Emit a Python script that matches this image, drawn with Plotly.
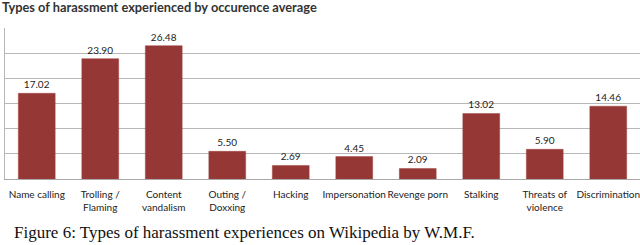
import plotly.graph_objects as go

categories = ["Name calling", "Trolling /<br>Flaming", "Content<br>vandalism", "Outing /<br>Doxxing",
              "Hacking", "Impersonation", "Revenge porn", "Stalking", "Threats of<br>violence", "Discrimination"]
values = [17.02, 23.90, 26.48, 5.50, 2.69, 4.45, 2.09, 13.02, 5.90, 14.46]
y_ticks = [0, 5, 10, 15, 20, 25, 30]

title_text = "Types of harassment experienced by occurence average"
caption_text = "Figure 6: Types of harassment experiences on Wikipedia by W.M.F."

W, H = 640, 245
ML, MR, MT, MB = 5, 0, 28, 66

fig = go.Figure()
fig.add_trace(go.Bar(
    x=categories, y=values,
    marker=dict(color="#953735", line=dict(color="#a04442", width=0.5)),
    width=0.58,
    text=[f"{v:.2f}" for v in values],
    textposition="outside",
    textfont=dict(family="Lato, Open Sans, sans-serif", size=10, color="#222222"),
    cliponaxis=False,
    hoverinfo="skip",
))

fig.update_layout(
    width=W, height=H,
    margin=dict(l=ML, r=MR, t=MT, b=MB, pad=0),
    paper_bgcolor="white", plot_bgcolor="white",
    showlegend=False,
    bargap=0.42,
    title=dict(text=f"<b>{title_text}</b>", x=0.003, xanchor="left", xref="container",
               y=1 - 8 / H, yanchor="middle", yref="container",
               font=dict(family="Lato, Open Sans, sans-serif", size=12.8, color="#333333")),
    font=dict(family="Lato, Open Sans, sans-serif", size=10, color="#222222"),
)

fig.update_yaxes(range=[0, 30], tickvals=y_ticks, showticklabels=False,
                 showgrid=True, gridcolor="#b8b8b8", gridwidth=1,
                 showline=True, linecolor="#b8b8b8", linewidth=1,
                 zeroline=False, fixedrange=True)
fig.update_xaxes(showgrid=False, showline=True, linecolor="#a8a8a8", linewidth=1,
                 ticks="outside", ticklen=6, tickcolor="rgba(0,0,0,0)",
                 tickfont=dict(family="Lato, Open Sans, sans-serif", size=10, color="#222222"),
                 tickangle=0, fixedrange=True)

plot_h = H - MT - MB
fig.add_annotation(text=caption_text, xref="paper", yref="paper",
                   x=0.0, xanchor="left", xshift=7,
                   y=-(H - 1 - (H - MB)) / plot_h, yanchor="bottom",
                   showarrow=False,
                   font=dict(family="Liberation Serif, serif", size=17, color="#111111"))

fig.write_html("out.html", config={"displayModeBar": False},
               post_script="document.body.style.margin='0';")
